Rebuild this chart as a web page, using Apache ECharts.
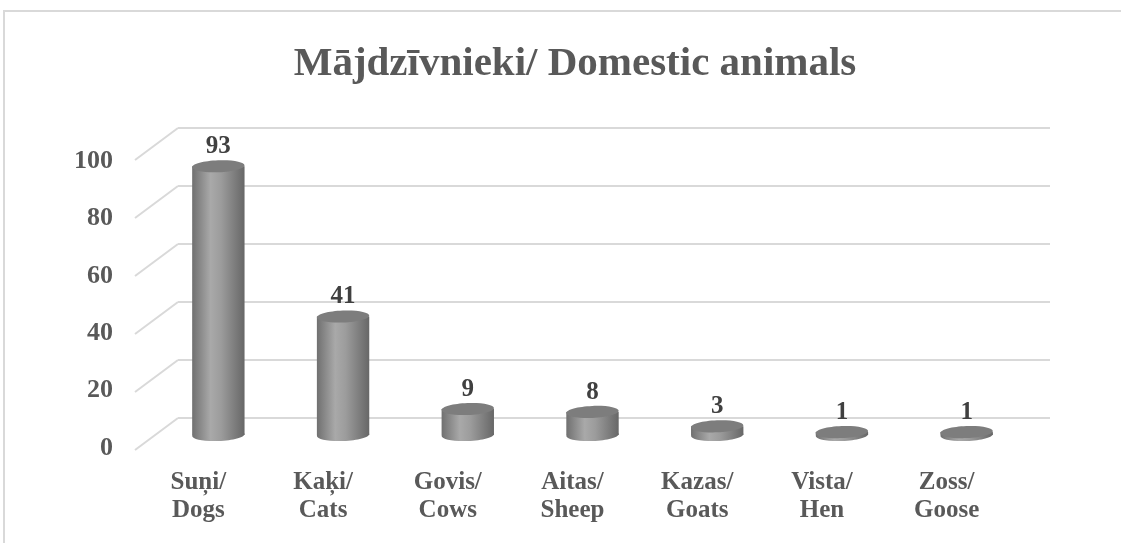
<!DOCTYPE html>
<html>
<head>
<meta charset="utf-8">
<script src="https://cdn.jsdelivr.net/npm/echarts@6/dist/echarts.min.js"></script>
<style>
  html, body { margin: 0; padding: 0; background: #fff; overflow: hidden; }
  #chart { width: 1121px; height: 543px; }
  .frame { position: absolute; left: 3px; top: 10px; width: 1130px; height: 545px;
           border-top: 2px solid #d9d9d9; border-left: 2px solid #d9d9d9; pointer-events: none; }
</style>
</head>
<body>
<div id="chart"></div>
<div class="frame"></div>
<script>
var categories = ['Suņi/\nDogs', 'Kaķi/\nCats', 'Govis/\nCows', 'Aitas/\nSheep', 'Kazas/\nGoats', 'Vista/\nHen', 'Zoss/\nGoose'];
var counts = [93, 41, 9, 8, 3, 1, 1];
var yTicks = [0, 20, 40, 60, 80, 100];

(function() {
  var serif = '"Liberation Serif", "Times New Roman", serif';
  var labelGrey = '#595959';
  var gridGrey = '#d9d9d9';

  var chart = echarts.init(document.getElementById('chart'), null, { renderer: 'canvas' });

  var side = {
    type: 'linear', x: 0, y: 0, x2: 1, y2: 0,
    colorStops: [
      { offset: 0, color: '#707070' },
      { offset: 0.35, color: '#a9a9a9' },
      { offset: 0.55, color: '#9c9c9c' },
      { offset: 1, color: '#676767' }
    ]
  };

  // cylinder bars drawn in the middle-depth grid
  function renderCylinder(params, api) {
    var base = api.coord([api.value(0), 0]);
    var top = api.coord([api.value(0), api.value(1)]);
    var w = api.size([1, 0])[0] * 0.42;
    var rx = w / 2, ry = 6;
    var cx = top[0];
    return {
      type: 'group',
      children: [
        { type: 'ellipse', shape: { cx: cx, cy: base[1], rx: rx, ry: ry }, rotation: 0.04,
          originX: cx, originY: base[1], style: { fill: side } },
        { type: 'rect', shape: { x: cx - rx, y: top[1], width: w, height: base[1] - top[1] },
          style: { fill: side } },
        { type: 'ellipse', shape: { cx: cx, cy: top[1], rx: rx, ry: ry }, rotation: 0.04,
          originX: cx, originY: top[1], style: { fill: '#7d7d7d' } },
        { type: 'text', style: {
            text: String(api.value(1)), x: cx, y: top[1] - ry - 1,
            align: 'center', verticalAlign: 'bottom',
            font: 'bold 25px ' + serif, fill: '#404040' } }
      ]
    };
  }

  // perspective side-wall lines from the front labels to the back grid
  function renderSideLine(params, api) {
    var p = api.coord([0, api.value(1)]);
    return {
      type: 'line',
      shape: { x1: p[0] - 43, y1: p[1] + 32, x2: p[0], y2: p[1] },
      style: { stroke: gridGrey, lineWidth: 2 }
    };
  }

  chart.setOption({
    animation: false,
    title: {
      text: 'Mājdzīvnieki/ Domestic animals',
      left: 570, textAlign: 'center', top: 39,
      textStyle: { fontFamily: serif, fontWeight: 'bold', fontSize: 41, color: labelGrey }
    },
    grid: [
      { left: 178, right: 71, top: 128, bottom: 125 },   // back wall
      { left: 136, right: 112, top: 161, bottom: 95 },   // front (labels)
      { left: 156, right: 92, top: 146, bottom: 108 }    // bar depth
    ],
    xAxis: [
      { gridIndex: 0, type: 'value', min: 0, max: 1, show: false },
      { gridIndex: 1, type: 'category', data: categories,
        axisLine: { show: false }, axisTick: { show: false },
        axisLabel: { margin: 21, color: labelGrey, fontFamily: serif, fontWeight: 'bold',
                     fontSize: 25, lineHeight: 28 } },
      { gridIndex: 2, type: 'category', data: categories, show: false }
    ],
    yAxis: [
      { gridIndex: 0, type: 'value', min: 0, max: 100, interval: 20,
        axisLabel: { show: false }, axisLine: { show: false }, axisTick: { show: false },
        splitLine: { lineStyle: { color: gridGrey, width: 2 } } },
      { gridIndex: 1, type: 'value', min: 0, max: 100, interval: 20,
        axisLine: { show: false }, axisTick: { show: false }, splitLine: { show: false },
        axisLabel: { margin: 23, color: labelGrey, fontFamily: serif, fontWeight: 'bold', fontSize: 26 } },
      { gridIndex: 2, type: 'value', min: 0, max: 100, show: false }
    ],
    series: [
      {
        type: 'custom', xAxisIndex: 0, yAxisIndex: 0,
        renderItem: renderSideLine,
        data: yTicks.map(function(v) { return [0, v]; }),
        encode: { x: 0, y: 1 }
      },
      {
        type: 'custom', xAxisIndex: 2, yAxisIndex: 2,
        renderItem: renderCylinder,
        data: counts.map(function(v, i) { return [i, v]; }),
        encode: { x: 0, y: 1 }
      }
    ]
  });
})();
</script>
</body>
</html>
